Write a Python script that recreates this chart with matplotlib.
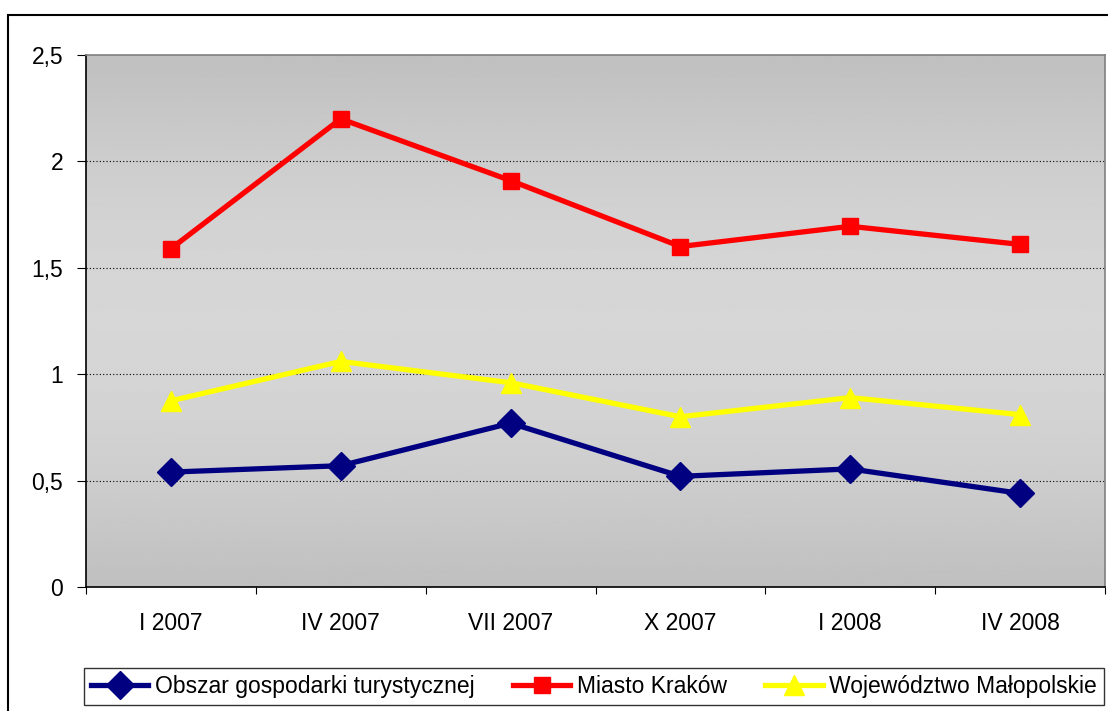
import numpy as np
import matplotlib.pyplot as plt
import matplotlib.patches as mpatches
from matplotlib.colors import LinearSegmentedColormap

plt.rcParams['font.family'] = ['Liberation Sans', 'DejaVu Sans']

categories = ['I 2007', 'IV 2007', 'VII 2007', 'X 2007', 'I 2008', 'IV 2008']
obszar = [0.54, 0.57, 0.77, 0.52, 0.555, 0.44]
krakow = [1.59, 2.20, 1.91, 1.60, 1.695, 1.61]
malopolska = [0.875, 1.06, 0.96, 0.80, 0.89, 0.81]
yticks = [0, 0.5, 1, 1.5, 2, 2.5]
ytick_labels = ['0', '0,5', '1', '1,5', '2', '2,5']

fig = plt.figure(figsize=(11.08, 7.11), dpi=100)
W, H = 1108, 711
ax = fig.add_axes([86 / W, 1 - 587 / H, (1105 - 86) / W, (587 - 55) / H])

# gradient background: darker at top/bottom, lighter in the middle
t = np.linspace(0, 1, 256)
shade = 0.75 + 0.09 * np.sin(np.pi * t)
grad = np.tile(shade[:, None], (1, 2))
cmap = LinearSegmentedColormap.from_list('g', ['black', 'white'])
ax.imshow(grad, extent=[0, 6, 0, 2.5], aspect='auto', cmap=cmap,
          vmin=0, vmax=1, origin='lower', zorder=0)

x = np.arange(len(categories)) + 0.5
ax.plot(x, obszar, color='#000080', lw=3.8, marker='D', ms=14,
        label='Obszar gospodarki turystycznej', zorder=3)
ax.plot(x, krakow, color='#ff0000', lw=3.8, marker='s', ms=11,
        label='Miasto Kraków', zorder=3)
ax.plot(x, malopolska, color='#ffff00', lw=3.8, marker='^', ms=15,
        label='Województwo Małopolskie', zorder=3)

ax.set_xlim(0, 6)
ax.set_ylim(0, 2.5)
for yv in yticks[1:-1]:
    ax.axhline(yv, color='black', lw=0.8, ls=(0, (1, 2)), zorder=1)

ax.set_yticks(yticks)
ax.set_yticklabels(ytick_labels, fontsize=16.5)
ax.set_xticks(range(7))
ax.set_xticklabels([])
ax.set_xticks(x, minor=True)
ax.set_xticklabels(categories, minor=True, fontsize=16.5)
ax.tick_params(axis='x', which='minor', length=0, pad=18)
ax.tick_params(axis='x', which='major', length=5, direction='out')
ax.tick_params(axis='y', length=6.5, direction='out', pad=10)

ax.spines['left'].set_color('black')
ax.spines['bottom'].set_color('black')
ax.spines['top'].set_color('#808080')
ax.spines['right'].set_color('#808080')
for s in ax.spines.values():
    s.set_linewidth(1.2)

leg = fig.legend(loc='upper left',
                 bbox_to_anchor=(84 / W, 1 - 669 / H, 1020 / W, 0.001),
                 mode='expand', ncol=3, fontsize=16.5, frameon=True,
                 fancybox=False, handlelength=2.5, handletextpad=0.3,
                 columnspacing=0.5, borderpad=0.3, borderaxespad=0)
leg.get_frame().set_edgecolor('black')
leg.get_frame().set_linewidth(1.0)

# outer chart border
fig.patches.append(mpatches.Rectangle((8 / W, -0.1), 1.2, 1 - 15 / H + 0.1,
                                      transform=fig.transFigure, fill=False,
                                      edgecolor='black', lw=1.5))

plt.savefig('out.png', dpi=100)
